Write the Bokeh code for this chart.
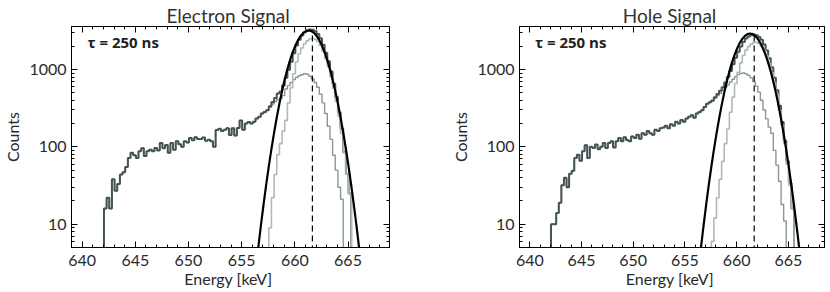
from bokeh.plotting import figure
from bokeh.layouts import row
from bokeh.models import (FixedTicker, LinearAxis, LogAxis, Range1d, Label,
                          NumeralTickFormatter, CustomJSTickFormatter)
from bokeh.embed import file_html
from bokeh.resources import INLINE

# ---------------- data ----------------
BIN_START = 642.05
BIN_WIDTH = 0.25

x_ticks = [640, 645, 650, 655, 660, 665]
x_minor = list(range(639, 670))
y_ticks = [10, 100, 1000]
y_minor = [5, 6, 7, 8, 9, 20, 30, 40, 50, 60, 70, 80, 90,
           200, 300, 400, 500, 600, 700, 800, 900, 2000, 3000]
titles = ["Electron  Signal", "Hole  Signal"]
x_label = "Energy  [keV]"
y_label = "Counts"
tau_text = "\u03c4 = 250 ns"

# Electron signal: total spectrum (bins from BIN_START)
el_total = [16, 22, 16, 38, 27, 33, 44, 47, 55, 72,
            84, 78, 72, 88, 96, 76, 88, 92, 88, 97,
            90, 112, 96, 106, 84, 112, 92, 118, 108, 100,
            118, 114, 130, 122, 133, 126, 126, 132, 120, 124,
            118, 100, 165, 172, 160, 166, 174, 142, 174, 140,
            176, 220, 166, 200, 210, 200, 212, 232, 245, 270,
            282, 298, 335, 380, 430, 490, 520, 620, 780, 990,
            1260, 1620, 2050, 2430, 2750, 3030, 3210, 3300, 3280, 3130,
            2890, 2530, 2090, 1650, 1280, 940, 655, 440, 280, 171,
            85, 45, 25]
el_tail_bins = 62
el_medium_peak = [326, 358, 386, 410, 420, 460, 560, 620, 680, 740, 790, 830,
                  855, 880, 870, 820, 760, 680, 590, 480, 370, 270, 185, 125,
                  78, 50, 30, 21]
el_light_start = 62
el_light = [9, 22, 44, 79, 110, 160, 220, 370, 580, 880, 1250, 1600, 1900,
            2150, 2350, 2480, 2520, 2450, 2300, 2050, 1720, 1380, 1090, 810,
            575, 390, 250, 150, 85, 45, 25]
el_centroid = 661.65
el_centroid_top = 3200

# Hole signal
ho_total = [10, 10, 14, 19, 32, 40, 30, 45, 49, 72,
            79, 66, 88, 105, 72, 100, 97, 107, 93, 100,
            112, 97, 112, 118, 98, 118, 130, 118, 133, 123,
            118, 136, 130, 143, 127, 150, 143, 160, 150, 143,
            166, 160, 174, 178, 188, 174, 196, 188, 211, 200,
            222, 211, 233, 245, 257, 238, 270, 283, 297, 327,
            360, 378, 397, 438, 483,
            532, 590, 680, 800, 960, 1170, 1420, 1700, 1990, 2270,
            2510, 2680, 2780, 2830, 2780, 2640, 2420, 2110, 1760, 1400,
            1070, 780, 540, 340, 210, 120, 65, 34, 16]
ho_tail_bins = 62
ho_medium_peak = [391, 426, 461, 494, 540, 590, 630, 690, 750, 810, 860, 890,
                  900, 880, 840, 780, 700, 610, 510, 400, 300, 230, 180, 150,
                  90, 58, 36, 18, 11]
ho_light_start = 62
ho_light = [6, 12, 22, 38, 65, 110, 170, 280, 440, 660, 920, 1220, 1520, 1780,
            1980, 2130, 2230, 2250, 2160, 2000, 1780, 1500, 1200, 910, 680,
            480, 300, 190, 110, 60, 32, 16]
ho_centroid = 661.7
ho_centroid_top = 2850

# Gaussian fits
fit_x = [656.3, 656.55, 656.8, 657.05, 657.3, 657.55, 657.8, 658.05, 658.3,
         658.55, 658.8, 659.05, 659.3, 659.55, 659.8, 660.05, 660.3, 660.55,
         660.8, 661.05, 661.3, 661.55, 661.8, 662.05, 662.3, 662.55, 662.8,
         663.05, 663.3, 663.55, 663.8, 664.05, 664.3, 664.55, 664.8, 665.05,
         665.3, 665.55, 665.8, 666.05, 666.3]
el_fit_y = [2.40, 4.83, 9.42, 17.7, 32.0, 55.9, 94.1, 153, 240, 363, 530, 745,
            1012, 1325, 1674, 2041, 2399, 2722, 2978, 3143, 3200, 3143, 2978,
            2722, 2399, 2041, 1674, 1325, 1012, 745, 530, 363, 240, 153, 94.1,
            55.9, 32.0, 17.7, 9.42, 4.83, 2.40]
ho_fit_y = [2.49, 4.97, 9.54, 17.7, 31.7, 54.8, 91.6, 147, 229, 344, 499, 698,
            943, 1229, 1546, 1878, 2201, 2491, 2721, 2869, 2920, 2869, 2721,
            2491, 2201, 1878, 1546, 1229, 943, 698, 499, 344, 229, 147, 91.6,
            54.8, 31.7, 17.7, 9.54, 4.97, 2.49]

# ---------------- helpers ----------------
FLOOR = 1.0
C_TOTAL = "#445353"
C_MED = "#8a9797"
C_LIGHT = "#aeb9b9"
FONT = "Lato"
TXT = "#2a2a2a"


def step_xy(start_bin, vals):
    e0 = BIN_START + start_bin * BIN_WIDTH
    xs, ys = [e0], [FLOOR]
    r = e0
    for i, v in enumerate(vals):
        l = e0 + i * BIN_WIDTH
        r = l + BIN_WIDTH
        xs += [l, r]
        ys += [v, v]
    xs.append(r)
    ys.append(FLOOR)
    return xs, ys


def blank_axis(cls, ticker):
    return cls(ticker=ticker,
               formatter=CustomJSTickFormatter(code="return ''"),
               major_tick_in=6, major_tick_out=0, minor_tick_in=3,
               minor_tick_out=0, axis_line_color="black",
               major_label_standoff=0, major_label_text_font_size="1px")


def make_panel(title, x_end, width, total, tail_bins, medium_peak, light_start,
               light, fit_y, centroid, centroid_top, left_border, right_border):
    p = figure(width=width, height=292, x_range=Range1d(639.0, x_end),
               y_range=Range1d(5, 3600), y_axis_type="log",
               output_backend="svg", toolbar_location=None,
               min_border_left=left_border, min_border_right=right_border,
               min_border_top=23, min_border_bottom=45)
    p.grid.visible = False
    p.outline_line_color = "black"
    p.outline_line_width = 1
    p.background_fill_color = "white"
    p.border_fill_color = "white"

    xt = FixedTicker(ticks=x_ticks, minor_ticks=x_minor)
    yt = FixedTicker(ticks=y_ticks, minor_ticks=y_minor)

    for ax in p.xaxis:
        ax.ticker = xt
    for ax in p.yaxis:
        ax.ticker = yt
        ax.formatter = NumeralTickFormatter(format="0")

    for ax in list(p.xaxis) + list(p.yaxis):
        ax.axis_line_color = "black"
        ax.major_tick_in = 6
        ax.major_tick_out = 0
        ax.minor_tick_in = 3
        ax.minor_tick_out = 0
        ax.major_tick_line_color = "black"
        ax.minor_tick_line_color = "black"
        ax.major_label_text_font = FONT
        ax.major_label_text_font_size = "16px"
        ax.major_label_text_color = TXT
        ax.axis_label_text_font = FONT
        ax.axis_label_text_font_size = "16px"
        ax.axis_label_text_font_style = "normal"
        ax.axis_label_text_color = TXT
    p.xaxis.major_label_standoff = 7
    p.yaxis.major_label_standoff = 5
    p.xaxis.axis_label = x_label
    p.xaxis.axis_label_standoff = 0
    p.yaxis.axis_label = y_label
    p.yaxis.axis_label_standoff = 4

    top = blank_axis(LinearAxis, xt)
    top.axis_label = title
    top.axis_label_standoff = 0
    top.axis_label_text_font = FONT
    top.axis_label_text_font_size = "19px"
    top.axis_label_text_font_style = "normal"
    top.axis_label_text_color = "#333333"
    p.add_layout(top, "above")
    p.add_layout(blank_axis(LogAxis, yt), "right")

    medium = total[:tail_bins] + medium_peak
    mx, my = step_xy(0, medium)
    p.line(mx, my, line_color=C_MED, line_width=1.4)
    tx, ty = step_xy(0, total)
    p.line(tx, ty, line_color=C_TOTAL, line_width=2.0)
    lx, ly = step_xy(light_start, light)
    p.line(lx, ly, line_color=C_LIGHT, line_width=1.6)
    p.line(fit_x, fit_y, line_color="black", line_width=2.2)
    p.segment(x0=[centroid], y0=[FLOOR], x1=[centroid], y1=[centroid_top],
              line_color="black", line_width=1.2, line_dash="6 4")

    p.add_layout(Label(x=640.5, y=2300, text=tau_text, text_align="left",
                       text_baseline="middle", text_font="Open Sans",
                       text_font_style="bold", text_font_size="15px",
                       text_color="#222222"))
    return p


p1 = make_panel(titles[0], 668.9, 448, el_total, el_tail_bins, el_medium_peak,
                el_light_start, el_light, el_fit_y, el_centroid,
                el_centroid_top, 67, 59)
p2 = make_panel(titles[1], 668.5, 380, ho_total, ho_tail_bins, ho_medium_peak,
                ho_light_start, ho_light, ho_fit_y, ho_centroid,
                ho_centroid_top, 59, 4)

layout = row(p1, p2)
open("out.html", "w").write(file_html(layout, INLINE))
